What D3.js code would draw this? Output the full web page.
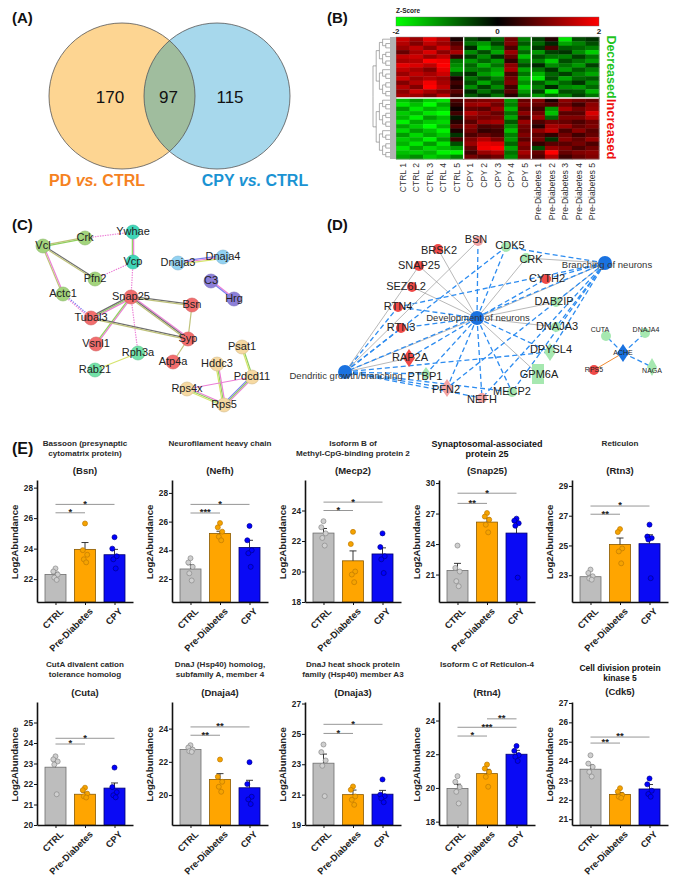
<!DOCTYPE html>
<html><head><meta charset="utf-8">
<script src="https://cdn.jsdelivr.net/npm/d3@7"></script>
<style>body{margin:0;background:#fff}svg{font-family:"Liberation Sans",Arial,Helvetica,sans-serif;display:block}</style>
</head><body><svg id="chart" width="675" height="880"></svg>
<script>
// ================= DATA =================
// (A) Venn
const vennSets = ["PD vs. CTRL", "CPY vs. CTRL"];
const vennCounts = [170, 97, 115];

// (B) heatmap (z-scores)
const heatCols = ["CTRL 1","CTRL 2","CTRL 3","CTRL 4","CTRL 5","CPY 1","CPY 2","CPY 3","CPY 4","CPY 5",
  "Pre-Diabetes 1","Pre-Diabetes 2","Pre-Diabetes 3","Pre-Diabetes 4","Pre-Diabetes 5"];
const heatValues = [
 [1.6,1.2,1.8,1.4,0.2,-0.6,-0.3,-0.8,0.9,-1.0,-0.5,0.3,-1.8,-0.6,-0.4],
 [1.4,1.0,1.5,1.2,0.6,-0.9,-1.2,-0.5,1.0,-0.7,-0.8,-0.3,-1.3,-1.0,-0.6],
 [1.2,1.5,1.1,1.6,0.9,-0.3,-1.5,-1.0,0.6,-1.2,-0.4,0.6,-0.7,-0.8,-1.0],
 [0.8,1.3,1.7,1.1,1.3,-1.1,-0.6,-1.3,1.2,-0.8,-1.2,-0.5,-0.4,-1.1,-1.6],
 [1.5,1.6,1.2,1.5,0.4,-0.5,-1.1,-0.4,0.8,-1.5,-0.6,-0.9,-1.0,-0.5,-0.9],
 [1.3,1.4,2.0,1.9,-0.9,-1.2,-0.8,-1.2,0.4,-1.0,-1.0,-1.6,-0.6,-0.9,-1.2],
 [1.8,1.7,1.5,2.0,-1.1,-0.8,-1.4,-0.9,1.1,-0.6,-0.3,-1.1,-0.9,-1.2,-0.5],
 [1.5,1.3,1.0,1.8,-1.3,-1.0,-0.9,-1.3,1.3,-1.3,-0.9,-0.4,-1.2,-0.7,-1.0],
 [1.2,1.5,1.3,1.6,-0.6,-0.4,-1.2,-1.5,0.6,-0.9,-1.4,-0.8,-0.5,-1.0,-1.3],
 [1.6,1.2,1.4,1.2,0.2,-0.9,-0.6,-1.0,0.9,-1.4,-1.8,-0.6,-1.3,-0.8,-0.7],
 [1.0,1.4,1.9,1.3,0.5,-0.6,-1.3,-0.7,1.0,-1.1,-0.7,-1.2,-0.8,-0.4,-1.1],
 [1.4,1.0,2.0,1.5,0.3,-1.1,-0.5,-1.1,0.5,-1.6,-1.0,-0.3,-1.1,-1.2,-0.8],
 [1.1,1.6,1.3,1.0,0.7,-0.3,-0.9,-0.5,0.7,-1.2,-0.5,-1.9,-0.6,-0.7,-1.4],
 [1.3,1.2,0.9,1.4,0.4,-0.7,-0.4,-0.9,0.3,-0.8,-1.2,-0.8,-1.0,-0.5,-0.9],
 [-1.5,-1.2,-1.6,-1.8,0.6,0.9,1.0,1.1,-1.2,0.8,1.0,0.2,1.1,0.9,0.8],
 [-1.8,-1.5,-2.0,-1.3,0.4,1.2,1.3,0.9,-1.0,1.0,0.8,0.6,0.9,0.5,1.1],
 [-1.2,-1.8,-1.4,-1.6,0.1,0.8,0.7,1.2,-1.4,0.7,0.5,-1.2,1.3,0.9,1.2],
 [-1.6,-1.4,-1.8,-2.0,0.5,1.4,1.1,0.8,-0.9,1.1,0.9,-1.5,0.7,0.7,1.7],
 [-1.4,-1.9,-1.2,-1.5,-0.2,1.0,0.9,1.0,-1.3,0.6,1.2,-0.8,1.0,1.0,1.4],
 [-1.9,-1.3,-1.6,-1.7,0.3,0.7,1.2,1.3,-0.7,1.2,0.6,0.9,0.8,0.6,0.9],
 [-1.3,-1.6,-2.0,-1.4,0.7,1.1,0.6,0.7,-1.1,0.9,0.3,1.3,1.2,0.8,1.0],
 [-1.7,-1.2,-1.5,-1.9,0.2,0.9,0.4,0.5,-1.5,0.8,1.1,1.5,0.6,1.1,0.7],
 [-1.2,-1.7,-1.3,-1.6,-0.4,0.6,0.8,0.6,-1.0,1.0,0.7,0.4,0.9,0.5,0.8],
 [-1.6,-1.4,-1.9,-1.2,0.5,1.0,1.4,1.0,-1.2,0.7,0.9,-0.4,1.1,0.8,1.2],
 [-1.4,-1.8,-1.2,-1.8,-0.6,1.2,1.8,1.7,-0.8,1.1,0.4,0.7,0.7,0.9,0.6],
 [-1.8,-1.3,-1.7,-1.5,-1.2,0.8,1.9,2.0,-1.3,0.9,-0.6,1.2,1.0,0.6,0.9],
 [-1.5,-1.6,-1.4,-1.9,-1.9,0.5,1.2,1.4,-0.9,1.3,0.8,2.0,0.8,1.0,1.1],
 [-1.3,-1.1,-1.6,-1.4,-1.0,0.9,0.7,0.9,-1.1,1.0,0.6,1.4,0.5,0.8,1.0]
];
const heatTicks = [-2, 0, 2];

// (C) STRING network
const stringNodes = ["Vcl","Crk","Ywhae","Vcp","Pfn2","Actc1","Snap25","Bsn","Tubal3","Syp","Vsnl1","Rph3a","Atp4a","Rab21","Dnaja3","Dnaja4","C3","Hrg","Psat1","Hddc3","Pdcd11","Rps4x","Rps5"];
const stringCluster = [0,0,1,1,0,0,2,2,2,2,2,3,2,3,4,4,5,5,6,6,6,6,6];
const stringEdges = [
 ["Vcl","Crk","og",0],["Crk","Ywhae","p",1],["Ywhae","Vcp","pg",0],["Vcp","Pfn2","p",1],["Vcl","Pfn2","ko",0],
 ["Vcl","Actc1","po",0],["Actc1","Tubal3","bp",1],["Vcp","Snap25","p",1],["Snap25","Bsn","ko",0],
 ["Snap25","Tubal3","pgk",0],["Snap25","Vsnl1","pg",0],["Snap25","Rph3a","p",1],["Snap25","Syp","pko",0],
 ["Tubal3","Syp","ko",0],["Bsn","Syp","o",0],["Syp","Atp4a","o",0],["Rph3a","Rab21","y",0],
 ["Dnaja3","Dnaja4","bpy",0],["C3","Hrg","pb",0],["Psat1","Pdcd11","gy",0],["Hddc3","Rps5","pgy",0],
 ["Pdcd11","Rps5","pgb",0],["Rps4x","Pdcd11","p",0],["Rps4x","Rps5","pgy",0]
];

// (D) IPA network
const ipaIds = ["BSN","CDK5","BRSK2","CRK","SNAP25","BR","CYTH2","SEZ6L2","DAB2IP","RTN4","DEV","RTN3","DNAJA3","CUTA","DNAJA4","ACHE","DPYSL4","RAP2A","RPS5","NAGA","DG","PTBP1","GPM6A","PFN2","MECP2","NEFH"];
const ipaLabels = ["BSN","CDK5","BRSK2","CRK","SNAP25","Branching of neurons","CYTH2","SEZ6L2","DAB2IP","RTN4","Development of neurons","RTN3","DNAJA3","CUTA","DNAJA4","ACHE","DPYSL4","RAP2A","RPS5","NAGA","Dendritic growth/branching","PTBP1","GPM6A","PFN2","MECP2","NEFH"];
const ipaRegulation = ["upL","down","up","down","up","hub","up","up","down","up","hub","up","down","down","down","hub","down","up","up","down","hub","down","down","upL","down","upL"];
const ipaShape = ["c","c","c","c","c","c","c","c","c","c","c","c","c","c","c","d","d","d","c","d","c","d","r","d","c","c"];
const ipaEdges = [
 ["DEV","BSN","b"],["DEV","CDK5","b"],["DEV","CYTH2","b"],["DEV","DAB2IP","g"],["DEV","DNAJA3","g"],["DEV","DPYSL4","b"],
 ["DEV","RTN4","b"],["DEV","RTN3","b"],["DEV","RAP2A","b"],["DEV","PTBP1","b"],["DEV","PFN2","b"],["DEV","NEFH","b"],
 ["DEV","MECP2","b"],["DEV","GPM6A","g"],["DEV","SNAP25","g"],["DEV","SEZ6L2","g"],["DEV","BRSK2","g"],["DEV","CRK","g"],
 ["DEV","BR","g"],["DEV","DG","g"],
 ["BR","CDK5","b"],["BR","CYTH2","b"],["BR","RTN4","b"],["BR","DAB2IP","g"],["BR","DPYSL4","b"],["BR","MECP2","b"],
 ["BR","NEFH","b"],["BR","PFN2","b"],["BR","CRK","g"],["BR","DG","b"],["BR","DNAJA3","b"],
 ["DG","RTN4","b"],["DG","RTN3","b"],["DG","BSN","g"],["DG","CDK5","b"],["DG","RAP2A","g"],["DG","PTBP1","b"],
 ["DG","PFN2","b"],["DG","NEFH","b"],["DG","MECP2","b"],["DG","DPYSL4","b"],["DG","SNAP25","g"],
 ["ACHE","CUTA","b"],["ACHE","DNAJA4","b"],["ACHE","NAGA","b"],["ACHE","RPS5","o"]
];

// (E) bar charts
const groups = ["CTRL","Pre-Diabetes","CPY"];
const geneSymbols = ["Bsn","Nefh","Mecp2","Snap25","Rtn3","Cuta","Dnaja4","Dnaja3","Rtn4","Cdk5"];
const geneTitles = [["Bassoon (presynaptic","cytomatrix protein)"],["Neurofilament heavy chain"],["Isoform B of","Methyl-CpG-binding protein 2"],
 ["Synaptosomal-associated","protein 25"],["Reticulon"],["CutA divalent cation","tolerance homolog"],["DnaJ (Hsp40) homolog,","subfamily A, member 4"],
 ["DnaJ heat shock protein","family (Hsp40) member A3"],["Isoform C of Reticulon-4"],["Cell division protein","kinase 5"]];
const yDomains = [[20.5,28.5],[20.4,28.9],[18,26],[18.3,30.3],[21.2,29.4],[20,26],[18.2,25.6],[19,27.1],[17.8,25.1],[20.7,27.05]];
const yTicks = [[22,24,26,28],[22,24,26,28],[18,20,22,24],[21,24,27,30],[23,25,27,29],[20,21,22,23,24,25],[20,22,24],[19,21,23,25,27],[18,20,22,24],[21,22,23,24,25,26,27]];
const barMeans = [[22.3,23.95,23.6],[22.7,25.18,24.2],[22.52,20.7,21.15],[21.4,26.16,25.08],[22.9,25.07,25.12],
 [22.82,21.5,21.8],[22.74,20.94,20.44],[23.07,21.0,21.03],[19.97,20.85,22.0],[23.58,22.28,22.56]];
const barSems = [[0.15,0.45,0.35],[0.3,0.15,0.5],[0.3,0.65,0.4],[0.7,0.4,1.1],[0.12,0.43,0.6],
 [0.3,0.1,0.25],[0.08,0.35,0.45],[0.6,0.3,0.25],[0.25,0.25,0.23],[0.22,0.1,0.23]];
const barPoints = [
 [[22.7,22.5,22.3,22.1,21.95],[25.65,23.9,23.6,23.3,23.1],[24.75,24.0,23.5,23.3,22.7]],
 [[23.45,23.15,22.85,22.4,21.9],[25.9,25.6,25.3,24.95,24.7],[25.7,24.7,24.0,23.8,22.85]],
 [[23.3,22.9,22.5,22.2,21.7],[22.6,21.8,20.0,19.8,19.3],[22.5,21.6,21.0,20.8,19.9]],
 [[23.85,21.65,21.3,20.35,19.85],[27.05,26.7,26.4,25.9,25.15],[26.5,26.3,26.05,25.8,20.7]],
 [[23.38,23.15,22.93,22.78,22.7],[26.1,25.9,24.8,24.6,23.8],[26.4,25.6,25.5,25.4,22.8]],
 [[23.35,23.2,23.1,22.95,21.5],[21.82,21.7,21.53,21.4,21.34],[22.8,21.85,21.6,21.45,21.35]],
 [[23.0,22.86,22.74,22.64,22.6],[22.14,21.1,20.8,20.5,20.2],[21.98,20.66,19.9,19.74,19.46]],
 [[24.3,23.8,23.25,22.9,20.9],[21.54,21.32,20.88,20.66,20.33],[22.0,21.0,20.9,20.75,20.5]],
 [[20.7,20.36,20.05,19.77,19.08],[21.39,21.15,20.95,20.66,20.07],[22.49,22.2,21.95,21.85,21.6]],
 [[24.3,23.87,23.7,23.44,23.2],[22.6,22.42,22.25,22.16,22.1],[23.1,22.8,22.47,22.3,22.16]]
];
const sigBrackets = [
 [[0,1,26.35,"*"],[0,2,26.9,"*"]],
 [[0,1,26.6,"***"],[0,2,27.2,"*"]],
 [[0,1,24.0,"*"],[0,2,24.55,"*"]],
 [[0,1,28.0,"**"],[0,2,29.0,"*"]],
 [[0,1,27.1,"**"],[0,2,27.65,"*"]],
 [[0,1,23.95,"*"],[0,2,24.23,"*"]],
 [[0,1,23.6,"**"],[0,2,24.1,"**"]],
 [[0,1,25.03,"*"],[0,2,25.63,"*"]],
 [[0,1,23.08,"*"],[0,2,23.6,"***"],[1,2,24.1,"**"]],
 [[0,1,24.93,"**"],[0,2,25.24,"**"]]
];

// ================= LAYOUT =================
const stringLayout = {Vcl:[43,246],Crk:[85,238],Ywhae:[133,232],Vcp:[133,262],Pfn2:[95,279],Actc1:[63,294],Snap25:[131,297],
 Bsn:[192,305],Tubal3:[91,318],Syp:[188,339],Vsnl1:[96,344],Rph3a:[138,353],Atp4a:[173,362],Rab21:[95,370],
 Dnaja3:[178,263],Dnaja4:[223,257],C3:[211,281],Hrg:[234,299],Psat1:[242,347],Hddc3:[217,364],Pdcd11:[252,377],Rps4x:[187,389],Rps5:[224,405]};
const ipaLayout = {BSN:[478,241,476,240],CDK5:[506,247,510,246],BRSK2:[438,249,439,251],CRK:[526,258,531,260],SNAP25:[419,266,419,266],
 BR:[605,263,607,265],CYTH2:[546,279,547,279],SEZ6L2:[412,287,406,287],DAB2IP:[556,302,554,302],RTN4:[398,307,398,307],
 DEV:[477,318,478,318],RTN3:[401,328,401,328],DNAJA3:[556,327,557,327],CUTA:[606,336,600,330],DNAJA4:[645,333,646,330],
 ACHE:[623,353,623,353],DPYSL4:[550,352,551,350],RAP2A:[409,358,410,358],RPS5:[594,370,594,370],NAGA:[652,367,652,371],
 DG:[345,372,346,376],PTBP1:[426,374,425,377],GPM6A:[538,374,539,375],PFN2:[447,388,446,390],MECP2:[512,392,512,392],NEFH:[482,398,482,400]};

// ================= DRAW =================
const svg = d3.select("#chart");
svg.append("rect").attr("width",675).attr("height",880).attr("fill","#fff");
const defs = svg.append("defs");

function panelLabel(t,x,y,s){svg.append("text").attr("x",x).attr("y",y).attr("font-size",s).attr("font-weight","bold").attr("fill","#111").text(t);}
panelLabel("(A)",12,23,15); panelLabel("(B)",327,23,15); panelLabel("(C)",12,230,15); panelLabel("(D)",327,230,15); panelLabel("(E)",12,454,16);

// ---- (A) Venn
{
 const vx = d3.scalePoint().domain(vennSets).range([122,217]);
 const r = 73, cy = 96;
 const gA = svg.append("g");
 defs.append("clipPath").attr("id","clipL").append("circle").attr("cx",vx(vennSets[0])).attr("cy",cy).attr("r",r);
 const fills = ["#fdd592","#a7d8ec"];
 gA.selectAll("circle.f").data(vennSets).join("circle").attr("cx",d=>vx(d)).attr("cy",cy).attr("r",r).attr("fill",(d,i)=>fills[i]);
 gA.append("circle").attr("cx",vx(vennSets[1])).attr("cy",cy).attr("r",r).attr("fill","#a0bd9e").attr("clip-path","url(#clipL)");
 gA.selectAll("circle.s").data(vennSets).join("circle").attr("cx",d=>vx(d)).attr("cy",cy).attr("r",r).attr("fill","none").attr("stroke","#555").attr("stroke-width",0.8);
 const nx = [vx(vennSets[0])-12, (vx(vennSets[0])+vx(vennSets[1]))/2-1, vx(vennSets[1])+13];
 gA.selectAll("text.n").data(vennCounts).join("text").attr("x",(d,i)=>nx[i]).attr("y",cy+3).attr("text-anchor","middle")
   .attr("dominant-baseline","middle").attr("font-size",17).attr("fill","#111").text(d=>d);
 const labCol = ["#f5821f","#1a93d3"], labX=[97,255];
 vennSets.forEach((s,i)=>{
   const parts = s.split(" vs. ");
   const t = gA.append("text").attr("x",labX[i]).attr("y",186).attr("text-anchor","middle").attr("font-size",16).attr("font-weight","bold").attr("fill",labCol[i]);
   t.append("tspan").text(parts[0]+" ");
   t.append("tspan").attr("font-style","italic").text("vs.");
   t.append("tspan").text(" "+parts[1]);
 });
}

// ---- (B) heatmap
{
 const gB = svg.append("g");
 const hx = d3.scaleBand().domain(heatCols).range([396,599]);
 const hy = d3.scaleBand().domain(d3.range(heatValues.length)).range([37,159]);
 const hc = d3.scaleLinear().domain([-2,0,2]).range(["#00ff00","#000000","#ff0000"]);
 heatValues.forEach((row,ri)=>{
   gB.selectAll(null).data(row).join("rect").attr("x",(d,ci)=>hx(heatCols[ci])).attr("y",hy(ri))
     .attr("width",hx.bandwidth()+0.4).attr("height",hy.bandwidth()+0.4).attr("fill",d=>hc(d));
 });
 ["CPY 1","Pre-Diabetes 1"].forEach(c=>gB.append("line").attr("x1",hx(c)).attr("x2",hx(c)).attr("y1",37).attr("y2",159).attr("stroke","#fff").attr("stroke-width",1.4));
 gB.append("line").attr("x1",396).attr("x2",599).attr("y1",hy(14)).attr("y2",hy(14)).attr("stroke","#fff").attr("stroke-width",1.4);
 gB.append("rect").attr("x",396).attr("y",37).attr("width",203).attr("height",122).attr("fill","none").attr("stroke","#888").attr("stroke-width",0.5);
 const grad = defs.append("linearGradient").attr("id","zgrad");
 grad.selectAll("stop").data(heatTicks).join("stop").attr("offset",(d,i)=>i/2).attr("stop-color",d=>hc(d));
 const zx = d3.scaleLinear().domain([-2,2]).range([396,599]);
 gB.append("rect").attr("x",396).attr("y",17).attr("width",203).attr("height",9).attr("fill","url(#zgrad)").attr("stroke","#666").attr("stroke-width",0.4);
 gB.append("text").attr("x",396).attr("y",13).attr("font-size",6.5).attr("font-weight","bold").attr("fill","#222").text("Z-Score");
 gB.selectAll("text.zt").data(heatTicks).join("text").attr("x",d=>zx(d)).attr("y",34).attr("text-anchor","middle")
   .attr("font-size",8).attr("font-weight","bold").attr("fill","#222").text(d=>d);
 gB.selectAll("text.cl").data(heatCols).join("text")
   .attr("transform",d=>`translate(${hx(d)+hx.bandwidth()/2+3},163) rotate(-90)`)
   .attr("text-anchor","end").attr("font-size",8.6).attr("fill","#333").text(d=>d);
 function split(lo,hi){ if(hi-lo===1) return {i:lo}; const m = lo+Math.floor((hi-lo)/2); return {children:[split(lo,m),split(m,hi)]}; }
 const root = d3.hierarchy(split(0,heatValues.length));
 const maxH = root.height;
 root.eachAfter(n=>{
   if(!n.children){ n.py = hy(n.data.i)+hy.bandwidth()/2; }
   else { n.py = d3.mean(n.children,c=>c.py); }
   n.px = 389 - (n.height/maxH)*16;
 });
 root.each(n=>{ if(!n.children) n.px = 390; });
 root.descendants().filter(n=>n.parent).forEach(n=>{
   gB.append("path").attr("d",`M${n.parent.px},${n.parent.py}V${n.py}H${n.px}`).attr("fill","none").attr("stroke","#777").attr("stroke-width",0.6);
 });
 gB.append("rect").attr("x",390).attr("y",37).attr("width",6).attr("height",122).attr("fill","#b3b3b3");
 gB.append("text").attr("transform","translate(610,67) rotate(90)").attr("text-anchor","middle").attr("dominant-baseline","middle")
   .attr("font-size",12.5).attr("font-weight","bold").attr("fill","#1fc41f").text("Decreased");
 gB.append("text").attr("transform","translate(610,129) rotate(90)").attr("text-anchor","middle").attr("dominant-baseline","middle")
   .attr("font-size",13).attr("font-weight","bold").attr("fill","#ee1111").text("Increased");
}

// ---- (C) STRING
{
 const gC = svg.append("g");
 const px = d3.scaleLinear().domain([0,675]).range([0,675]);
 const edgeCol = {p:"#ec7fd6",g:"#8fcf5e",o:"#bfc27a",k:"#6f6f6f",b:"#7d7ef0",y:"#d6e46e"};
 const pos = n=>[px(stringLayout[n][0]),stringLayout[n][1]];
 stringEdges.forEach(([s,t,cols,dotted])=>{
   const [x1,y1]=pos(s),[x2,y2]=pos(t);
   const dx=x2-x1, dy=y2-y1, L=Math.hypot(dx,dy), nx=-dy/L, ny=dx/L;
   const k=cols.length;
   cols.split("").forEach((c,j)=>{
     const o=(j-(k-1)/2)*1.3;
     gC.append("line").attr("x1",x1+nx*o).attr("y1",y1+ny*o).attr("x2",x2+nx*o).attr("y2",y2+ny*o)
       .attr("stroke",edgeCol[c]).attr("stroke-width",1.2).attr("stroke-dasharray",dotted?"1.4,1.1":null);
   });
 });
 const clusterCol = ["#a3d47c","#3fd6b8","#f26d6d","#72e2a8","#92d2f2","#8c7fd9","#f6d9a2"];
 gC.selectAll("circle").data(stringNodes).join("circle").attr("cx",d=>pos(d)[0]).attr("cy",d=>pos(d)[1]).attr("r",7)
   .attr("fill",(d,i)=>clusterCol[stringCluster[i]]).attr("stroke",(d,i)=>d3.color(clusterCol[stringCluster[i]]).darker(0.4)).attr("stroke-width",0.6);
 gC.selectAll("text").data(stringNodes).join("text").attr("x",d=>pos(d)[0]).attr("y",d=>pos(d)[1]).attr("text-anchor","middle")
   .attr("dominant-baseline","middle").attr("font-size",11).attr("fill","#222").text(d=>d);
}

// ---- (D) IPA
{
 const gD = svg.append("g");
 const P = id=>ipaLayout[id];
 const eStyle = {b:["#2d8cf0",1.3,"5,3"],g:["#9a9a9a",0.7,null],o:["#f08a30",1,null]};
 ipaEdges.forEach(([s,t,ty])=>{
   const a=P(s), b=P(t), st=eStyle[ty];
   gD.append("line").attr("x1",a[0]).attr("y1",a[1]).attr("x2",b[0]).attr("y2",b[1]).attr("stroke",st[0]).attr("stroke-width",st[1]).attr("stroke-dasharray",st[2]);
 });
 const regCol = {up:"#f04a48",upL:"#f4a3a3",down:"#a6e8b0",hub:"#1a72e0"};
 ipaIds.forEach((id,i)=>{
   const [x,y]=P(id), col = regCol[ipaRegulation[i]], sh=ipaShape[i];
   if(sh==="c"){
     gD.append("circle").attr("cx",x).attr("cy",y).attr("r",ipaRegulation[i]==="hub"?7:5).attr("fill",col);
   } else if(sh==="d"){
     const w = id==="NAGA"||id==="PTBP1"?5:6, h = id==="PTBP1"?7:9;
     gD.append("path").attr("d",`M${x},${y-h}L${x+w},${y}L${x},${y+h}L${x-w},${y}Z`).attr("fill",col);
   } else {
     gD.append("rect").attr("x",x-6).attr("y",y-10).attr("width",12).attr("height",20).attr("fill",col);
   }
 });
 ipaIds.forEach((id,i)=>{
   const l=P(id), hub=ipaRegulation[i]==="hub" && id!=="ACHE";
   const small = ["CUTA","DNAJA4","ACHE","RPS5","NAGA"].includes(id);
   gD.append("text").attr("x",l[2]).attr("y",l[3]).attr("text-anchor","middle").attr("dominant-baseline","middle")
     .attr("font-size",hub?9.5:(small?7:11)).attr("fill",hub?"#333":"#222").text(ipaLabels[i]);
 });
}

// ---- (E) bar charts
{
 const axisX = [37,172,305,439,572];
 const barFill = ["#bdbdbd","#ffa500","#0a0af5"];
 const barStroke = ["#6e6e6e","#8a5a00","#000070"];
 const ptFill = ["#cfcfcf","#f5a300","#0000ff"];
 const ptStroke = ["#8a8a8a","#c07a00","#00008a"];
 const jit = [0,-2.2,2.2,-1.2,1.2];
 geneSymbols.forEach((gene,i)=>{
   const row = i<5?0:1, col=i%5, x0=axisX[col];
   const yTop = row?702:480, yBot=row?825:602;
   const g = svg.append("g");
   const y = d3.scaleLinear().domain(yDomains[i]).range([yBot,yTop]);
   const x = d3.scalePoint().domain(groups).range([x0,x0+96]).padding(0.627);
   const bw = 21;
   const tl = geneTitles[i];
   const boldT = (gene==="Snap25"||gene==="Cdk5");
   const ty = gene==="Cdk5" ? [668,678] : (row? [665,674.5] : [444,454]);
   tl.forEach((t,k)=>g.append("text").attr("x",x0+48).attr("y",ty[k]+(boldT?1:0)).attr("text-anchor","middle").attr("dominant-baseline","middle")
     .attr("font-size",boldT?(gene==="Cdk5"?8.5:9):8.1).attr("font-weight","bold").attr("fill",boldT?"#111":"#2a2a2a").text(t));
   g.append("text").attr("x",x0+48).attr("y",gene==="Cdk5"?692:(row?693:471)).attr("text-anchor","middle").attr("dominant-baseline","middle")
     .attr("font-size",9.5).attr("font-weight","bold").attr("fill","#222").text("("+gene+")");
   g.selectAll("rect").data(barMeans[i]).join("rect").attr("x",(d,k)=>x(groups[k])-bw/2).attr("y",d=>y(d))
     .attr("width",bw).attr("height",d=>yBot-y(d)).attr("fill",(d,k)=>barFill[k]).attr("stroke",(d,k)=>barStroke[k]).attr("stroke-width",0.8);
   barMeans[i].forEach((m,k)=>{
     const cx=x(groups[k]), yt=y(m+barSems[i][k]);
     g.append("line").attr("x1",cx).attr("x2",cx).attr("y1",y(m)).attr("y2",yt).attr("stroke","#222").attr("stroke-width",0.9);
     g.append("line").attr("x1",cx-3.5).attr("x2",cx+3.5).attr("y1",yt).attr("y2",yt).attr("stroke","#222").attr("stroke-width",0.9);
   });
   barPoints[i].forEach((pts,k)=>{
     g.selectAll(null).data(pts).join("circle").attr("cx",(d,j)=>x(groups[k])+jit[j]).attr("cy",d=>y(d)).attr("r",2.5)
      .attr("fill",ptFill[k]).attr("stroke",ptStroke[k]).attr("stroke-width",0.7);
   });
   const ay = g.append("g").attr("transform",`translate(${x0},0)`).call(d3.axisLeft(y).tickValues(yTicks[i]).tickSize(3).tickSizeOuter(0).tickFormat(d3.format("d")));
   ay.select(".domain").attr("stroke","#111").attr("stroke-width",1.6);
   ay.selectAll(".tick line").attr("stroke","#111").attr("stroke-width",1);
   ay.selectAll(".tick text").attr("font-size",8.3).attr("font-weight","bold").attr("fill","#222").attr("font-family",null).attr("x",-4);
   const ax = g.append("g").attr("transform",`translate(0,${yBot})`).call(d3.axisBottom(x).tickSize(3).tickSizeOuter(0));
   ax.select(".domain").attr("stroke","#111").attr("stroke-width",1.6);
   ax.selectAll(".tick line").attr("stroke","#111").attr("stroke-width",1);
   ax.selectAll(".tick text").attr("font-size",9.3).attr("font-weight","bold").attr("fill","#222").attr("font-family",null)
     .attr("text-anchor","end").attr("transform","translate(4,6) rotate(-45)").attr("dy","0.6em").attr("y",0);
   g.append("text").attr("transform",`translate(${x0-22},${(yTop+yBot)/2+1}) rotate(-90)`).attr("text-anchor","middle")
     .attr("dominant-baseline","middle").attr("font-size",9.5).attr("font-weight","bold").attr("fill","#222").text("Log2Abundance");
   sigBrackets[i].forEach(([a,b,v,lab])=>{
     const yy=y(v);
     g.append("line").attr("x1",x(groups[a])).attr("x2",x(groups[b])).attr("y1",yy).attr("y2",yy).attr("stroke","#8a8a8a").attr("stroke-width",0.9);
     g.append("text").attr("x",(x(groups[a])+x(groups[b]))/2).attr("y",yy+2.4).attr("text-anchor","middle").attr("font-size",9.5).attr("font-weight","bold").attr("fill","#222").text(lab);
   });
 });
}
</script></body></html>
